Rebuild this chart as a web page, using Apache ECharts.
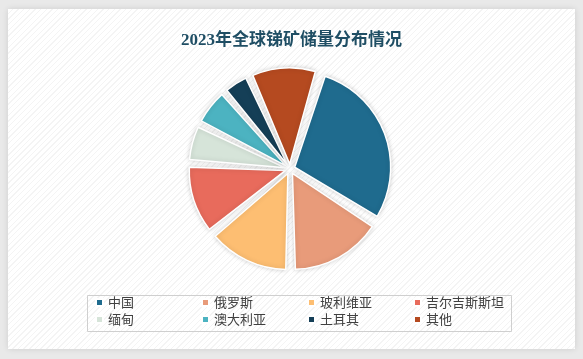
<!DOCTYPE html>
<html>
<head>
<meta charset="utf-8">
<script src="https://cdn.jsdelivr.net/npm/echarts@6/dist/echarts.min.js"></script>
<style>
    html, body {
        margin: 0;
        padding: 0;
        width: 583px;
        height: 359px;
        background: #e9e9e9;
        overflow: hidden;
    }
    #card {
        position: absolute;
        left: 8px;
        top: 9px;
        width: 567px;
        height: 340px;
        background: repeating-linear-gradient(135deg, #ffffff 0px, #ffffff 3px, #f4f4f4 3px, #f4f4f4 4px);
        box-shadow: 0 0 6px rgba(0, 0, 0, 0.12);
    }
    #chart {
        position: absolute;
        left: 0;
        top: 0;
        width: 583px;
        height: 359px;
    }
</style>
</head>
<body>
<div id="card"></div>
<div id="chart"></div>
<script>
// 2023年全球锑矿储量 (万吨)
var countries = ['中国', '俄罗斯', '玻利维亚', '吉尔吉斯斯坦', '缅甸', '澳大利亚', '土耳其', '其他'];
var reserves = [64, 35, 31, 26, 14, 14, 10, 25];
var colors = ['#1f6b8e', '#e89b7a', '#fdbe72', '#e86b5c', '#d6e4d9', '#4cb3c1', '#153f57', '#b54a20'];

var chart = echarts.init(document.getElementById('chart'));

var pieData = countries.map(function (name, i) {
    return {name: name, value: reserves[i], selected: true};
});

// legend laid out as 4 columns x 2 rows, one vertical legend per column
var legendCols = [0, 1, 2, 3].map(function (c) {
    return {
        orient: 'vertical',
        left: 95 + c * 106,
        top: 296,
        padding: 0,
        itemGap: 4,
        itemWidth: 7,
        itemHeight: 7,
        icon: 'rect',
        data: [countries[c], countries[c + 4]],
        textStyle: {
            fontFamily: 'Noto Sans CJK SC',
            fontSize: 13,
            color: '#404040'
        }
    };
});

var option = {
    backgroundColor: 'transparent',
    color: colors,
    title: {
        text: '2023年全球锑矿储量分布情况',
        left: 'center',
        top: 27,
        textStyle: {
            fontFamily: 'Liberation Serif, Noto Sans CJK SC',
            fontSize: 17,
            fontWeight: 'bold',
            color: '#1f4e64'
        }
    },
    graphic: [{
        type: 'rect',
        shape: {x: 87.5, y: 295.5, width: 424, height: 36},
        style: {fill: 'none', stroke: '#cfcfcf', lineWidth: 1},
        silent: true
    }],
    legend: legendCols,
    series: [{
        type: 'pie',
        center: [290, 169],
        radius: 96,
        startAngle: 73,
        clockwise: true,
        padAngle: 3,
        selectedMode: 'multiple',
        selectedOffset: 5,
        label: {show: false},
        labelLine: {show: false},
        emphasis: {scale: false},
        itemStyle: {
            borderColor: '#ffffff',
            borderWidth: 1.5,
            shadowBlur: 5,
            shadowColor: 'rgba(0, 0, 0, 0.18)'
        },
        data: pieData
    }]
};

chart.setOption(option);
</script>
</body>
</html>
